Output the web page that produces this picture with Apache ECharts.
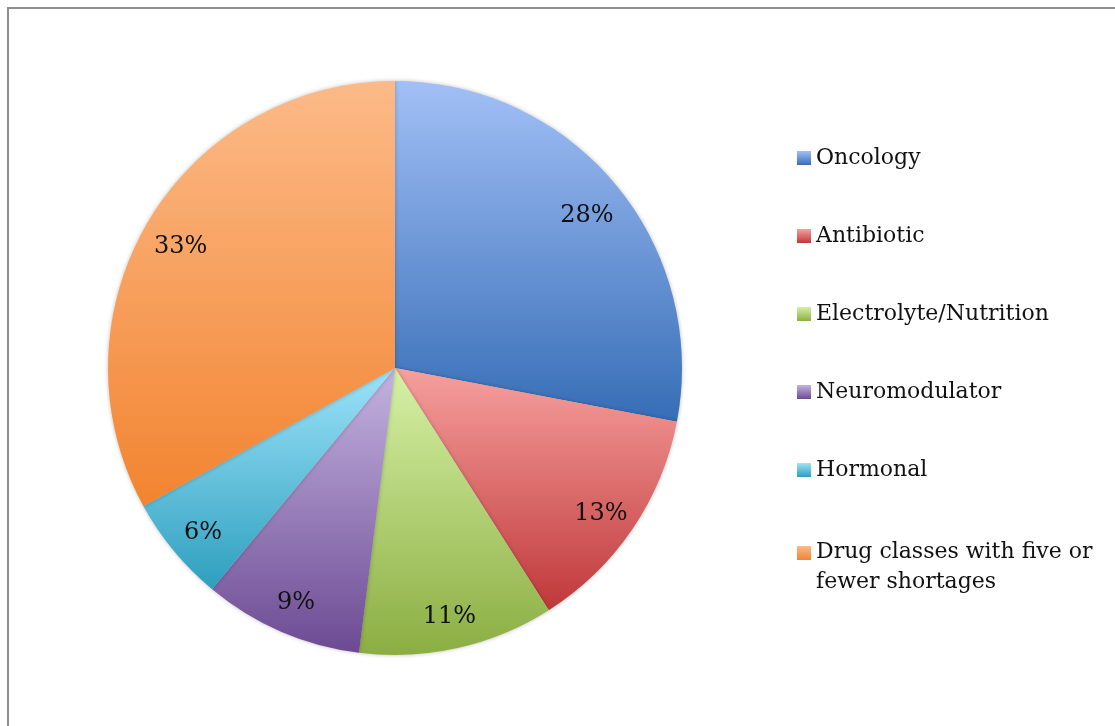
<!DOCTYPE html>
<html>
<head>
<meta charset="utf-8">
<script src="https://cdn.jsdelivr.net/npm/echarts@6/dist/echarts.min.js"></script>
<style>
html,body{margin:0;padding:0;background:#fff;}
#chart{width:1115px;height:726px;}
</style>
</head>
<body>
<div id="chart"></div>
<script>
var categories = ['Oncology','Antibiotic','Electrolyte/Nutrition','Neuromodulator','Hormonal','Drug classes with five or\nfewer shortages'];
var values = [28, 13, 11, 9, 6, 33];
var topColors = ['#a2c0f6','#f6a09e','#d6f1a6','#c4b3e0','#9de3fa','#fcba88'];
var bottomColors = ['#366db6','#c0383a','#8bae42','#6c4a93','#2d9fbe','#f28430'];

function grad(i){
  return new echarts.graphic.LinearGradient(0,0,0,1,[
    {offset:0,color:topColors[i]},{offset:1,color:bottomColors[i]}
  ]);
}
var mainData = categories.map(function(c,i){
  return {name:c, value:values[i], itemStyle:{color:grad(i)}};
});
var labelData = categories.map(function(c,i){
  return {name:c, value:values[i]};
});

var FONT = 'DejaVu Serif';
var chart = echarts.init(document.getElementById('chart'), null, {renderer:'canvas'});
chart.setOption({
  animation:false,
  backgroundColor:'#ffffff',
  graphic:[{
    type:'rect', silent:true, z:-10,
    shape:{x:8,y:8,width:1120,height:730},
    style:{fill:'none',stroke:'#8f8f8f',lineWidth:2}
  }],
  legend:{
    orient:'vertical',
    left:797, top:143,
    padding:0,
    itemWidth:14, itemHeight:14, itemGap:48,
    icon:'rect',
    selectedMode:false,
    data:categories,
    formatter:function(name){
      var p = name.split('\n');
      if(p.length > 1){ return '{a|' + p[0] + '}\n{b|' + p[1] + '}'; }
      return name;
    },
    textStyle:{
      fontFamily:FONT,fontSize:22,color:'#111',lineHeight:30,
      rich:{
        a:{fontFamily:FONT,fontSize:22,color:'#111',lineHeight:38,verticalAlign:'middle'},
        b:{fontFamily:FONT,fontSize:22,color:'#111',lineHeight:2,verticalAlign:'top'}
      }
    }
  },
  series:[{
    type:'pie',
    center:[395,368],
    radius:[0,287],
    startAngle:90,
    clockwise:true,
    avoidLabelOverlap:false,
    label:{show:false},
    labelLine:{show:false},
    itemStyle:{borderWidth:0,shadowBlur:4,shadowColor:'rgba(0,0,0,0.25)'},
    emphasis:{disabled:true},
    data:mainData
  },{
    type:'pie',
    center:[395,374],
    radius:[205,287],
    startAngle:90,
    clockwise:true,
    silent:true,
    avoidLabelOverlap:false,
    itemStyle:{color:'rgba(0,0,0,0)',borderWidth:0},
    label:{show:true,position:'inside',formatter:'{c}%',fontFamily:FONT,fontSize:24,color:'#111'},
    labelLine:{show:false},
    emphasis:{disabled:true},
    data:labelData
  }]
});
</script>
</body>
</html>
